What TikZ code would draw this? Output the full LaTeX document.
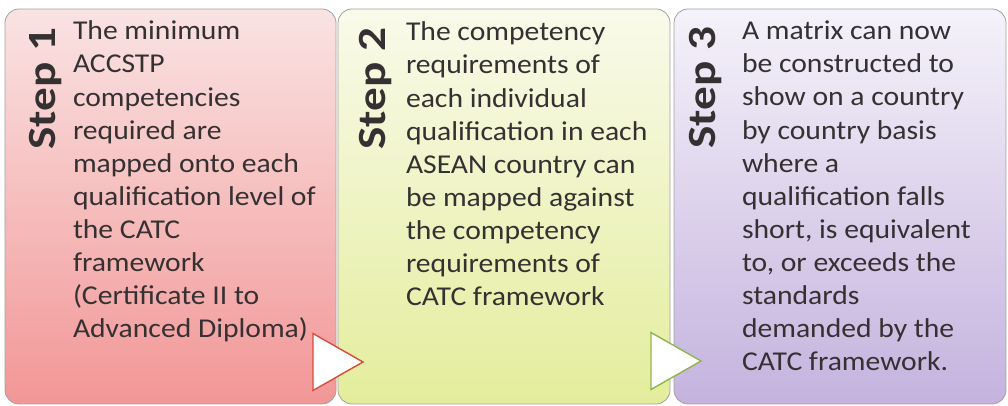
\documentclass[tikz,border=0pt]{standalone}
\usepackage{fontspec}
\setmainfont[FakeStretch=1.09]{Carlito}
\newfontfamily\stepfont[FakeStretch=1.18]{Carlito}
\newcommand*{\bodyfont}{\fontsize{27.2}{33.1}\selectfont}
\newcommand*{\labelfont}{\stepfont\bfseries\fontsize{40}{40}\selectfont}
\definecolor{redtop}{cmyk}{0.00,0.09,0.09,0.02}
\definecolor{redbottom}{cmyk}{0.00,0.36,0.36,0.05}
\definecolor{redline}{cmyk}{0.00,0.71,0.73,0.12}
\definecolor{greentop}{cmyk}{0.00,0.00,0.06,0.02}
\definecolor{greenbottom}{cmyk}{0.04,0.00,0.32,0.07}
\definecolor{greenline}{cmyk}{0.29,0.00,0.68,0.22}
\definecolor{violettop}{cmyk}{0.02,0.03,0.00,0.02}
\definecolor{violetbottom}{cmyk}{0.10,0.17,0.00,0.13}
\definecolor{frame}{cmyk}{0.00,0.00,0.00,0.42}
\definecolor{ink}{cmyk}{0.00,0.00,0.00,0.92}
\usetikzlibrary{positioning}
\usetikzlibrary{shapes.geometric}
\tikzstyle{base}=[inner sep=0pt, outer sep=0pt, x=1pt, y=1pt]
\tikzstyle{stepbox}=[draw=frame, line width=0.8pt, rounded corners=14pt, minimum width=332pt, minimum height=395pt]
\tikzstyle{steplabel}=[rotate=90, anchor=base east, font=\labelfont, text=ink]
\tikzstyle{steptext}=[anchor=north west, align=left, font=\bodyfont, text=ink]
\tikzstyle{marker}=[isosceles triangle, isosceles triangle stretches, minimum height=50pt, minimum width=57pt, fill=white, line width=1.4pt, anchor=apex]

\begin{document}
\begin{tikzpicture}[base]
    \path [use as bounding box] (0,0) rectangle (1008,406);
        \node [stepbox, minimum width=331pt, top color=redtop, bottom color=redbottom] (box1) at (170.5,199.5) {};
        \node [stepbox, top color=greentop, bottom color=greenbottom, right=2pt of box1] (box2) {};
        \node [stepbox, top color=violettop, bottom color=violetbottom, right=4pt of box2] (box3) {};
        \node [steplabel] (step1) at (55.5,378) {Step 1};
        \node [steplabel] (step2) at (385.5,378) {Step 2};
        \node [steplabel] (step3) at (715.5,379) {Step 3};
        \node [steptext] (text1) at (73,385) {The minimum\\ACCSTP\\competencies\\required are\\mapped onto each\\qualification level of\\the CATC\\framework\\(Certificate II to\\Advanced Diploma)};
        \node [steptext] (text2) at (406,384) {The competency\\requirements of\\each individual\\qualification in each\\ASEAN country can\\be mapped against\\the competency\\requirements of\\CATC framework};
        \node [steptext] (text3) at (742,385) {A matrix can now\\be constructed to\\show on a country\\by country basis\\where a\\qualification falls\\short, is equivalent\\to, or exceeds the\\standards\\demanded by the\\CATC framework.};
        \node [marker, draw=redline] (arrow1) at (363,44) {};
        \node [marker, draw=greenline] (arrow2) at (701,45) {};
    \end{tikzpicture}
\end{document}
